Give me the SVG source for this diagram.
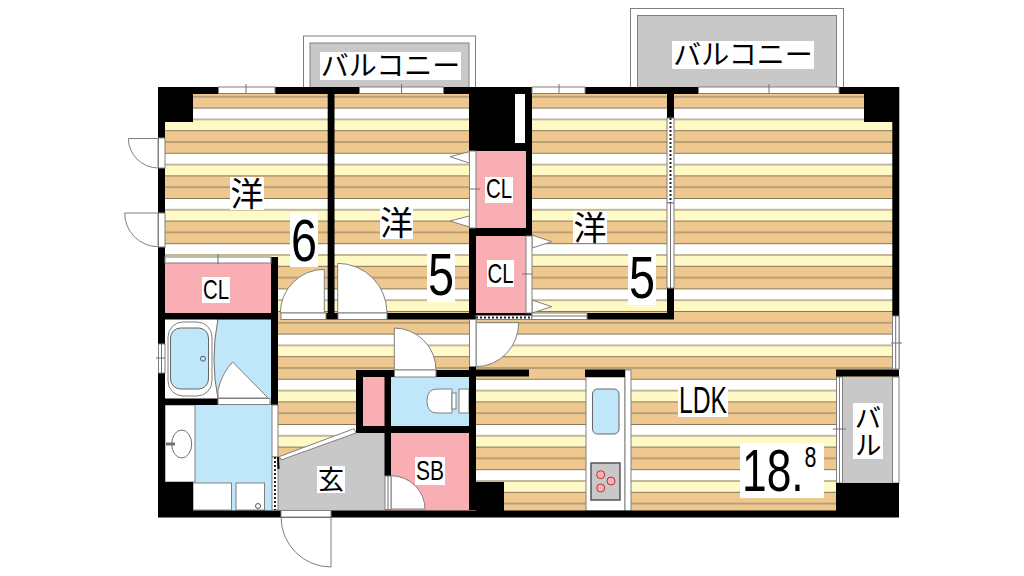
<svg xmlns="http://www.w3.org/2000/svg" width="1024" height="576" viewBox="0 0 1024 576">
<style>
.w{fill:#000}
.p{fill:#f9aeb4}
.b{fill:#bfe6f9}
.g{fill:#c8c8c8}
.lb{fill:#fff}
.o{fill:#fff;stroke:#808080;stroke-width:1}
.l{fill:none;stroke:#707070;stroke-width:1}
.d{fill:none;stroke:#222;stroke-width:2;stroke-dasharray:2 2}
.t{font-family:"Liberation Sans",sans-serif;fill:#000;text-anchor:middle}
.j{font-family:"Noto Sans CJK JP","Liberation Sans",sans-serif;fill:#000;text-anchor:middle}
</style>
<defs>
<pattern id="floor" patternUnits="userSpaceOnUse" x="0" y="107.6" width="40" height="45.2">
<rect width="40" height="45.2" fill="#fff"/>
<rect y="11.3" width="40" height="11.3" fill="#fff9c6"/>
<rect y="22.6" width="40" height="22.6" fill="#eec88f"/>
<path d="M0 .5H40M0 11.8H40M0 23.1H40M0 34.4H40" stroke="#85765c" stroke-width="1" fill="none"/>
</pattern>
</defs>
<rect width="1024" height="576" fill="#fff"/>

<g id="balconies">
<rect x="303.500" y="36" width="172" height="52" class="o"/>
<rect x="310" y="43" width="159" height="45" class="g" stroke="#808080"/>
<rect x="320" y="52" width="141" height="28" class="lb"/>
<text x="390.500" y="76" font-size="28" class="j">バルコニー</text>
<rect x="630.500" y="8.500" width="213" height="80" class="o"/>
<rect x="637.500" y="15.500" width="199" height="72" class="g" stroke="#808080"/>
<rect x="672" y="41" width="142" height="28" class="lb"/>
<text x="743" y="65" font-size="28" class="j">バルコニー</text>
</g>

<rect id="floor-area" x="160" y="90" width="735" height="424" fill="url(#floor)"/>

<g id="pink-rooms">
<rect x="165" y="263" width="106" height="50" class="p"/>
<rect x="475" y="151" width="52" height="78" class="p"/>
<rect x="475" y="235" width="52" height="79" class="p"/>
<rect x="362" y="376" width="24" height="51" class="p"/>
<rect x="390" y="432" width="80" height="79" class="p"/>
</g>

<g id="bath-wash">
<rect x="165" y="319" width="107" height="80" class="b"/>
<path d="M165 319H218Q210 359 218 399H165Z" fill="#fff"/>
<path d="M218 319Q210 359 218 399" class="l"/>
<rect x="168" y="322" width="44" height="74" rx="15" class="o"/>
<rect x="170.500" y="328" width="38" height="61" rx="10" class="b" stroke="#666"/>
<circle cx="203" cy="358.700" r="2.500" class="b" stroke="#555"/>
<path d="M218 398V390Q222 373 232.700 362L268 398Z" class="o"/>
<rect x="165" y="404" width="107" height="107" class="b"/>
<rect x="165" y="405" width="30" height="77" class="o"/>
<ellipse cx="181.700" cy="444" rx="10" ry="14" fill="#fff" stroke="#707070"/>
<path d="M166 444H175" stroke="#707070" stroke-width="3"/>
<rect x="193" y="483" width="38.500" height="27" class="o"/>
<rect x="236" y="483" width="28.500" height="27" class="o"/>
<circle cx="258" cy="506" r="2.500" fill="#fff" stroke="#555"/>
</g>

<g id="toilet">
<rect x="390" y="376" width="80" height="51" class="b"/>
<path d="M452 389H437Q427 389 427 401Q427 413 437 413H452Z" class="o"/>
<rect x="452" y="393" width="4" height="16" class="o"/>
<rect x="459" y="389" width="10" height="24" class="o"/>
</g>

<g id="entrance">
<path d="M278 460L356 431H385V511H278Z" class="g"/>
</g>

<g id="kitchen">
<rect x="586" y="377" width="39" height="134" class="o"/>
<rect x="625" y="370" width="6" height="141" class="o"/>
<rect x="592.500" y="389" width="26.500" height="45" rx="5" class="b" stroke="#666"/>
<rect x="591" y="463" width="29" height="37" class="g" stroke="#555" stroke-width="1.500"/>
<circle cx="600.700" cy="474.700" r="4" class="p" stroke="#b33"/>
<circle cx="611" cy="481" r="4" class="p" stroke="#b33"/>
<circle cx="600.700" cy="488" r="4" class="p" stroke="#b33"/>
</g>

<g id="balcony-right">
<rect x="836" y="377" width="63" height="106" class="g"/>
<rect x="836.500" y="377" width="3" height="106" class="o"/>
<rect x="839.500" y="377" width="3" height="106" class="o"/>
<rect x="892.500" y="377" width="6.500" height="106" class="o"/>
</g>

<g id="doors">
<path d="M128.300 138.500H158V168A30 30 0 0 1 128.300 138.500Z" class="o"/>
<path d="M124.700 213H158V246.700A33.500 33.500 0 0 1 124.700 213Z" class="o"/>
<path d="M324.300 269.300V313H280.300A44 44 0 0 1 324.300 269.300Z" class="o"/>
<path d="M337.700 263.300V313H387A49.500 49.500 0 0 0 337.700 263.300Z" class="o"/>
<path d="M394.300 328V370H436A42 42 0 0 0 394.300 328Z" class="o"/>
<path d="M476 322.700H518.700A43 44 0 0 1 476 366.700Z" class="o"/>
<path d="M391 475.700V509H425A34 33.500 0 0 0 391 475.700Z" class="o"/>
<path d="M331 517V567A50 50 0 0 1 281 517Z" class="o"/>
<path d="M450 156.700L469.300 151.700V163ZM450 221L469.300 216V227Z" class="o"/>
<path d="M551.700 241.700L532 235V248ZM551.700 306.700L532 300V313Z" class="o"/>
</g>

<g id="walls">
<rect x="158" y="87" width="741" height="7" class="w"/>
<rect x="158" y="510.500" width="741" height="7" class="w"/>
<rect x="158" y="87" width="7" height="430" class="w"/>
<rect x="158" y="87" width="35" height="35" class="w"/>
<rect x="158" y="482" width="35" height="35" class="w"/>
<rect x="476" y="482" width="28" height="30" class="w"/>
<rect x="892.300" y="87" width="7" height="282" class="w"/>
<rect x="864" y="87" width="35" height="35" class="w"/>
<rect x="836" y="483" width="63" height="34" class="w"/>
<rect x="327.700" y="94" width="6.800" height="225" class="w"/>
<rect x="469" y="87" width="63" height="64" class="w"/>
<rect x="526" y="94" width="6" height="142" class="w"/>
<rect x="469" y="228" width="63" height="8" class="w"/>
<rect x="469" y="228" width="7" height="282" class="w"/>
<rect x="158" y="313" width="120" height="6.500" class="w"/>
<rect x="271" y="257" width="7" height="148" class="w"/>
<rect x="326" y="313" width="12" height="6.500" class="w"/>
<rect x="387" y="313" width="89" height="6.500" class="w"/>
<rect x="476" y="313" width="56" height="2.500" class="w"/>
<rect x="587" y="313" width="87" height="6.500" class="w"/>
<rect x="667" y="94" width="7" height="24" class="w"/>
<rect x="667" y="288" width="7" height="31" class="w"/>
<rect x="158" y="398.500" width="60" height="6.500" class="w"/>
<rect x="356" y="370" width="38" height="7" class="w"/>
<rect x="436" y="370" width="40" height="7" class="w"/>
<rect x="356" y="370" width="7" height="63" class="w"/>
<rect x="384.500" y="370" width="6.500" height="106" class="w"/>
<rect x="356" y="426" width="120" height="7" class="w"/>
<rect x="476" y="369.500" width="53" height="7" class="w"/>
<rect x="585" y="369.500" width="40" height="7.500" class="w"/>
<rect x="836" y="369.500" width="63" height="7" class="w"/>
</g>

<g id="openings">
<rect x="515" y="94" width="10" height="49" fill="#fff"/>
<rect x="218.500" y="87" width="56.500" height="6.500" class="o"/><path d="M246 84V93" class="l"/>
<rect x="359.500" y="87" width="84" height="6.500" class="o"/><path d="M401.500 84V93" class="l"/>
<rect x="532" y="87" width="53" height="6.500" class="o"/><path d="M559 84V93" class="l"/>
<rect x="698.500" y="87" width="140.500" height="6.500" class="o"/><path d="M769 84V93" class="l"/>
<rect x="158.500" y="138" width="6.500" height="30" class="o"/>
<rect x="158.500" y="213" width="6.500" height="34" class="o"/>
<rect x="158.500" y="344" width="6.500" height="29" class="o"/><path d="M156 358H165M161.500 344V373" class="l"/>
<rect x="165" y="257" width="106" height="6" class="o"/><path d="M218 254V264" class="l"/>
<rect x="469.500" y="151" width="6.500" height="77" class="o"/><path d="M469 189H480" class="l"/>
<rect x="526" y="236" width="6" height="77" class="o"/><path d="M522 274H532" class="l"/>
<rect x="667" y="118" width="7" height="85" class="o"/><path d="M670.500 118V203" class="d"/>
<rect x="667" y="203" width="7" height="85" class="o"/><path d="M670.500 203V288" class="l"/>
<rect x="476" y="315.500" width="56" height="4" class="o"/><path d="M476 317.500H532" class="d"/>
<rect x="532" y="313" width="55" height="6.500" class="o"/><path d="M532 316H587" class="l"/>
<rect x="281" y="313" width="45" height="6.500" class="o"/>
<rect x="338" y="313" width="49" height="6.500" class="o"/>
<rect x="394.500" y="370" width="41.500" height="7" class="o"/>
<rect x="469.500" y="319.500" width="6.500" height="47" class="o"/>
<rect x="385" y="476" width="6" height="33.500" class="o"/><path d="M388 476V509" class="l"/>
<rect x="281" y="510.500" width="50" height="6.500" class="o"/>
<rect x="218" y="398.500" width="52" height="6" class="o"/>
<rect x="272" y="405" width="6" height="52" class="o"/>
<rect x="272" y="457" width="6" height="53" class="o"/><path d="M275 457V510" class="d"/>
<path d="M278.500 469L278 457" stroke="#000" stroke-width="2"/>
<path d="M279.500 456.500L354 428.700L356 433L281 460Z" class="o"/>
<rect x="892.500" y="316" width="6.500" height="53" class="o"/><path d="M895.700 316V369" class="l"/><path d="M891 343H902" class="l"/>
<path d="M833 429H846" class="l"/>
</g>

<g id="labels">
<rect x="230" y="177" width="34" height="33" class="lb"/>
<text x="247" y="206" font-size="33" class="j">洋</text>
<rect x="290" y="213" width="28" height="54" class="lb"/>
<text x="304" y="261" font-size="60" class="t" textLength="26" lengthAdjust="spacingAndGlyphs">6</text>
<rect x="380" y="207" width="33" height="32" class="lb"/>
<text x="396.500" y="235" font-size="33" class="j">洋</text>
<rect x="427" y="250" width="28" height="52" class="lb"/>
<text x="441" y="295" font-size="60" class="t" textLength="26" lengthAdjust="spacingAndGlyphs">5</text>
<rect x="573" y="211" width="34" height="32" class="lb"/>
<text x="590" y="240" font-size="33" class="j">洋</text>
<rect x="628" y="254" width="28" height="51" class="lb"/>
<text x="642" y="298" font-size="60" class="t" textLength="26" lengthAdjust="spacingAndGlyphs">5</text>
<rect x="485" y="177" width="28" height="26" class="lb"/>
<text x="499" y="198" font-size="28" class="t" textLength="26" lengthAdjust="spacingAndGlyphs">CL</text>
<rect x="487" y="260" width="27" height="27" class="lb"/>
<text x="500.500" y="283" font-size="28" class="t" textLength="26" lengthAdjust="spacingAndGlyphs">CL</text>
<rect x="202" y="277" width="28" height="26" class="lb"/>
<text x="216" y="299" font-size="28" class="t" textLength="26" lengthAdjust="spacingAndGlyphs">CL</text>
<rect x="317" y="466" width="28" height="27" class="lb"/>
<text x="331" y="489" font-size="26" class="j">玄</text>
<rect x="415" y="457" width="30" height="28" class="lb"/>
<text x="430" y="480" font-size="28" class="t" textLength="28" lengthAdjust="spacingAndGlyphs">SB</text>
<rect x="678" y="386" width="50" height="31" class="lb"/>
<text x="703" y="413" font-size="36" class="t" textLength="48" lengthAdjust="spacingAndGlyphs">LDK</text>
<rect x="853" y="403" width="30" height="56" class="lb"/>
<text x="868" y="431" font-size="27" class="j" style="writing-mode:vertical-rl">バル</text>
<rect x="740" y="443" width="84" height="55" class="lb"/>
<text transform="translate(742 491) scale(.74 1)" font-size="60" font-family="Liberation Sans,sans-serif">18.<tspan dy="-24" dx="1" font-size="29">8</tspan></text>
</g>
</svg>
